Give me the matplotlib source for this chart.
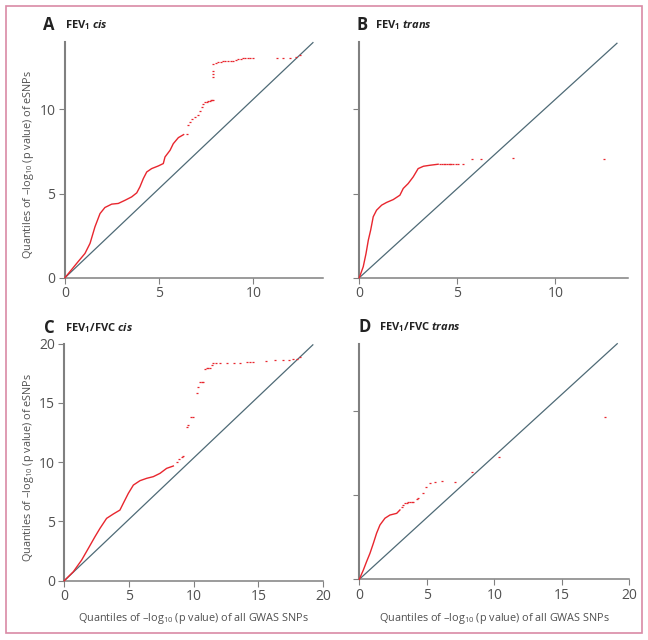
import matplotlib
matplotlib.use('Agg')
import matplotlib.pyplot as plt
from matplotlib.patches import Rectangle

plt.rcParams['font.family'] = ['Open Sans', 'DejaVu Sans']
plt.rcParams['mathtext.fontset'] = 'custom'
plt.rcParams['mathtext.rm'] = 'Open Sans'
plt.rcParams['mathtext.it'] = 'Open Sans:italic'
plt.rcParams['mathtext.bf'] = 'Open Sans:bold'
plt.rcParams['mathtext.bfit'] = 'Open Sans:italic:bold'

# ---------------- data ----------------
# Panel A: FEV1 cis
a_curve_x = [0, 0.62, 1.06, 1.33, 1.59, 1.86, 2.12, 2.48, 2.83, 3.19, 3.54, 3.81, 3.98, 4.16,
             4.34, 4.60, 4.96, 5.22, 5.31, 5.58, 5.75, 6.02, 6.30]
a_curve_y = [0, 0.85, 1.44, 2.04, 3.02, 3.81, 4.17, 4.37, 4.41, 4.60, 4.80, 5.04, 5.40, 5.89,
             6.28, 6.48, 6.64, 6.78, 7.17, 7.57, 7.96, 8.32, 8.50]
a_tail_x = [6.46, 6.55, 6.64, 6.73, 6.90, 7.08, 7.18, 7.26, 7.35, 7.43, 7.52, 7.60, 7.68, 7.75, 7.82,
            7.88, 7.88, 7.88, 7.88, 7.88, 8.02, 8.14, 8.27, 8.40, 8.52, 8.65, 8.80, 8.94, 9.07,
            9.20, 9.32, 9.45, 9.58, 9.70, 9.85, 10.0, 11.24, 11.60, 11.95, 12.25, 12.48]
a_tail_y = [8.56, 9.05, 9.25, 9.45, 9.55, 9.64, 9.90, 10.14, 10.30, 10.43, 10.45, 10.48, 10.50, 10.53,
            10.53, 10.53, 11.92, 12.10, 12.30, 12.71, 12.76, 12.81, 12.83, 12.85, 12.86, 12.88, 12.89,
            12.90, 12.95, 12.98, 13.00, 13.02, 13.03, 13.05, 13.05, 13.06, 13.06, 13.06, 13.06,
            13.12, 13.20]
a_diag = [13.19, 13.99]

# Panel B: FEV1 trans
b_curve_x = [0, 0.20, 0.34, 0.46, 0.58, 0.71, 0.88, 1.14, 1.39, 1.73, 2.07, 2.24, 2.49, 2.75,
             3.00, 3.27, 3.61, 4.02]
b_curve_y = [0, 0.65, 1.42, 2.23, 2.83, 3.62, 4.01, 4.31, 4.47, 4.64, 4.90, 5.30, 5.59, 5.99,
             6.48, 6.62, 6.68, 6.74]
b_tail_x = [4.12, 4.20, 4.30, 4.38, 4.45, 4.55, 4.62, 4.70, 4.79, 4.92, 5.05, 5.30, 5.76, 6.18,
            7.84, 12.50]
b_tail_y = [6.74, 6.74, 6.74, 6.74, 6.74, 6.74, 6.74, 6.74, 6.74, 6.74, 6.74, 6.74, 7.08, 7.08,
            7.13, 7.08]
b_diag = [13.16, 13.95]

# Panel C: FEV1/FVC cis
c_curve_x = [0, 0.70, 1.34, 1.86, 2.37, 2.76, 3.27, 3.79, 4.30, 4.56, 4.95, 5.34, 5.85, 6.37,
             6.88, 7.40, 7.91, 8.43]
c_curve_y = [0, 0.76, 1.74, 2.73, 3.71, 4.42, 5.26, 5.63, 5.96, 6.53, 7.37, 8.07, 8.44, 8.64,
             8.78, 9.06, 9.48, 9.68]
c_tail_x = [8.69, 8.88, 9.07, 9.20, 9.46, 9.60, 9.80, 9.95, 10.23, 10.36, 10.49, 10.62, 10.75,
            10.90, 11.00, 11.12, 11.25, 11.38, 11.52, 11.75, 12.00, 12.55, 13.10, 13.58, 14.10,
            14.35, 14.60, 15.60, 16.30, 16.93, 17.40, 17.70, 18.00, 18.22]
c_tail_y = [10.04, 10.25, 10.46, 10.50, 13.00, 13.10, 13.84, 13.84, 15.80, 16.37, 16.79, 16.79,
            16.79, 17.85, 17.92, 17.92, 17.95, 18.20, 18.34, 18.36, 18.38, 18.40, 18.40, 18.40,
            18.45, 18.47, 18.48, 18.57, 18.60, 18.62, 18.64, 18.68, 18.75, 18.90]
c_diag = [19.25, 19.94]

# Panel D: FEV1/FVC trans
d_curve_x = [0, 0.30, 0.54, 0.79, 1.04, 1.28, 1.53, 1.90, 2.27, 2.77, 3.01]
d_curve_y = [0, 0.55, 1.05, 1.54, 2.13, 2.73, 3.22, 3.62, 3.81, 3.91, 4.11]
d_tail_x = [3.15, 3.26, 3.38, 3.51, 3.63, 3.75, 3.88, 4.00, 4.25, 4.37, 4.69, 4.94, 5.23, 5.60,
            6.10, 7.09, 8.32, 10.35, 18.20]
d_tail_y = [4.30, 4.41, 4.50, 4.55, 4.56, 4.57, 4.57, 4.57, 4.78, 4.80, 5.10, 5.49, 5.73, 5.79,
            5.85, 5.79, 6.34, 7.23, 9.64]
d_diag = [19.14, 13.99]

letters = ['A', 'B', 'C', 'D']
titles = [r'$\mathbf{FEV_1}$ $\mathbfit{cis}$',
          r'$\mathbf{FEV_1}$ $\mathbfit{trans}$',
          r'$\mathbf{FEV_1/FVC}$ $\mathbfit{cis}$',
          r'$\mathbf{FEV_1/FVC}$ $\mathbfit{trans}$']
ylabel_text = r'Quantiles of –log$_{10}$ (p value) of eSNPs'
xlabel_text = r'Quantiles of –log$_{10}$ (p value) of all GWAS SNPs'

# ---------------- layout ----------------
W, H = 648, 640
fig = plt.figure(figsize=(W / 100, H / 100), dpi=100)

def px_axes(left, right, top, bottom):
    return [left / W, 1 - bottom / H, (right - left) / W, (bottom - top) / H]

panels = [
    dict(px=(65, 323, 42, 277.7), cx=a_curve_x, cy=a_curve_y, tx=a_tail_x, ty=a_tail_y,
         diag=a_diag, xlim=(0, 13.7), ylim=(0, 14.0), xt=[0, 5, 10], yt=[0, 5, 10],
         ylab=True, xlab=False, yticklab=True, title_px=(43, 65, 25)),
    dict(px=(359.3, 628, 42, 277.7), cx=b_curve_x, cy=b_curve_y, tx=b_tail_x, ty=b_tail_y,
         diag=b_diag, xlim=(0, 13.7), ylim=(0, 14.0), xt=[0, 5, 10], yt=[0, 5, 10],
         ylab=False, xlab=False, yticklab=False, title_px=(357, 375, 25)),
    dict(px=(64.3, 323, 343.7, 580.7), cx=c_curve_x, cy=c_curve_y, tx=c_tail_x, ty=c_tail_y,
         diag=c_diag, xlim=(0, 20), ylim=(0, 20), xt=[0, 5, 10, 15, 20], yt=[0, 5, 10, 15, 20],
         ylab=True, xlab=True, yticklab=True, title_px=(44, 65, 328)),
    dict(px=(359.3, 629.3, 344.3, 579.3), cx=d_curve_x, cy=d_curve_y, tx=d_tail_x, ty=d_tail_y,
         diag=d_diag, xlim=(0, 20), ylim=(0, 13.93), xt=[0, 5, 10, 15, 20], yt=[0, 5, 10],
         ylab=False, xlab=True, yticklab=False, title_px=(359, 379, 327)),
]

red = '#e8262e'
diag_col = '#4e6a76'
spine_col = '#808080'
text_col = '#505050'

for letter, title, p in zip(letters, titles, panels):
    left, right, top, bottom = p['px']
    ax = fig.add_axes(px_axes(left, right, top, bottom))
    ax.plot([0, p['diag'][0]], [0, p['diag'][1]], color=diag_col, lw=0.9, solid_capstyle='butt',
            clip_on=False, zorder=2)
    ax.plot(p['cx'], p['cy'], color=red, lw=1.0, clip_on=False, zorder=3)
    ax.plot(p['tx'], p['ty'], linestyle='none', marker='_', markersize=2.0, mew=0.9,
            color=red, clip_on=False, zorder=3)
    ax.set_xlim(*p['xlim'])
    ax.set_ylim(*p['ylim'])
    ax.set_xticks(p['xt'])
    ax.set_yticks(p['yt'])
    if not p['yticklab']:
        ax.set_yticklabels([])
    for s in ['top', 'right']:
        ax.spines[s].set_visible(False)
    ax.spines['left'].set_color(spine_col)
    ax.spines['left'].set_linewidth(1.5)
    ax.spines['bottom'].set_color(spine_col)
    ax.spines['bottom'].set_linewidth(1.1)
    ax.tick_params(direction='out', length=4.3, width=0.8, color=spine_col,
                   labelcolor=text_col, labelsize=10)
    ax.tick_params(axis='x', pad=2.0)
    ax.tick_params(axis='y', pad=2.5)
    ax.patch.set_visible(False)
    w_px = right - left
    h_px = bottom - top
    if p['ylab']:
        ax.set_ylabel(ylabel_text, fontsize=7.8, color=text_col)
        ax.yaxis.set_label_coords((36 - left) / w_px, 0.48)
    if p['xlab']:
        ax.set_xlabel(xlabel_text, fontsize=7.8, color=text_col)
        ax.xaxis.set_label_coords(0.5, -(611 - bottom) / h_px)
    lx, tx_, ty_ = p['title_px']
    fig.text(lx / W, 1 - ty_ / H, letter, fontsize=12, fontweight='bold', color='#222222',
             ha='left', va='center')
    fig.text(tx_ / W, 1 - ty_ / H, title, fontsize=8.0, color='#222222', ha='left', va='center')

fig.patches.append(Rectangle((6 / W, 1 - 633 / H), 636 / W, 627 / H, transform=fig.transFigure,
                             fill=False, edgecolor='#d98aa5', lw=1.2))

fig.savefig('out.png', dpi=100)
